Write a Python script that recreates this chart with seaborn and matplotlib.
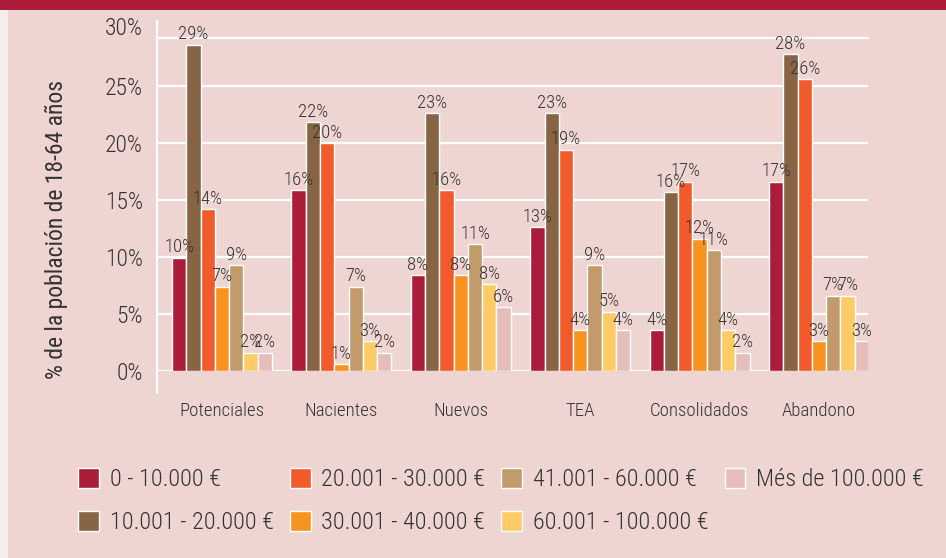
import matplotlib
matplotlib.use("Agg")
import matplotlib.pyplot as plt
import seaborn as sns
import pandas as pd
from matplotlib.patches import Rectangle

# ---- data -------------------------------------------------------------
categories = ["Potenciales", "Nacientes", "Nuevos", "TEA", "Consolidados", "Abandono"]
tramos = [
    "0 - 10.000 €",
    "10.001 - 20.000 €",
    "20.001 - 30.000 €",
    "30.001 - 40.000 €",
    "41.001 - 60.000 €",
    "60.001 - 100.000 €",
    "Més de 100.000 €",
]
renta_0_10 = [9.95, 15.85, 8.4, 12.6, 3.6, 16.6]
renta_10_20 = [28.6, 21.8, 22.6, 22.6, 15.7, 27.8]
renta_20_30 = [14.2, 20.0, 15.85, 19.4, 16.6, 25.6]
renta_30_40 = [7.4, 0.6, 8.4, 3.6, 11.6, 2.6]
renta_41_60 = [9.3, 7.4, 11.1, 9.3, 10.6, 6.6]
renta_60_100 = [1.6, 2.6, 7.6, 5.2, 3.6, 6.6]
renta_mas_100 = [1.6, 1.6, 5.6, 3.6, 1.6, 2.6]
yticks = [0, 5, 10, 15, 20, 25, 30]
ylabel = "% de la población de 18-64 años"

series = [renta_0_10, renta_10_20, renta_20_30, renta_30_40,
          renta_41_60, renta_60_100, renta_mas_100]
colors = ["#AC1C3A", "#876443", "#F15A2B", "#F7931E",
          "#C39A6C", "#FECB66", "#E5BDB9"]

rows = []
for tramo, vals in zip(tramos, series):
    for cat, v in zip(categories, vals):
        rows.append({"categoria": cat, "tramo": tramo, "valor": v})
df = pd.DataFrame(rows)

# ---- style ------------------------------------------------------------
BG = "#EED5D1"
TXT = "#333333"
sns.set_theme(style="white")
plt.rcParams["font.family"] = ["Roboto Condensed", "DejaVu Sans"]
plt.rcParams["font.weight"] = 300
plt.rcParams["text.color"] = TXT

W, H = 946, 558
fig = plt.figure(figsize=(W / 100, H / 100), dpi=100, facecolor=BG)

# page decoration: dark red band on top, pale strip on the left
fig.patches.append(Rectangle((0, 1 - 10 / H), 1, 10 / H, transform=fig.transFigure,
                             facecolor="#AC1C3A", edgecolor="none", zorder=0))
fig.patches.append(Rectangle((0, 0), 8 / W, 1 - 10 / H, transform=fig.transFigure,
                             facecolor="#F7EDEC", edgecolor="none", zorder=0))

ax = fig.add_axes([157 / W, (H - 371) / H, 711 / W, 333 / H])
ax.set_facecolor(BG)

sns.barplot(data=df, x="categoria", y="valor", hue="tramo", hue_order=tramos,
            order=categories, palette=colors, saturation=1, width=0.837,
            errorbar=None, ax=ax)

for cont in ax.containers:
    ax.bar_label(cont, labels=[f"{v:.0f}%" for v in cont.datavalues],
                 padding=1, fontsize=13.5, color=TXT)

ax.set_xlim(-0.544, 5.41)
ax.set_ylim(0, 29.2)
ax.set_yticks(yticks[:-1])
ax.set_yticklabels([f"{t}%" for t in yticks[:-1]])
ax.annotate(f"{yticks[-1]}%", xy=(0, yticks[-1]), xycoords=ax.get_yaxis_transform(),
            xytext=(-10, 0), textcoords="offset points", ha="right", va="center",
            fontsize=17, color=TXT, annotation_clip=False)

for s in ["left", "right", "bottom"]:
    ax.spines[s].set_visible(False)
ax.spines["top"].set_color("white")
ax.spines["top"].set_linewidth(1.6)

ax.yaxis.grid(True, color="white", linewidth=1.6)
ax.xaxis.grid(False)
ax.set_axisbelow(True)

ax.tick_params(axis="y", length=0, pad=10, labelsize=17, labelcolor=TXT)
ax.tick_params(axis="x", which="major", length=0, pad=22, labelsize=13.5, labelcolor=TXT)
step = 0.648
ax.set_xticks([-0.544 + step * k for k in range(1, 10)], minor=True)
ax.tick_params(axis="x", which="minor", length=7.5, width=1.5, color="white",
               direction="out")

# vertical axis line running past the plot area
ax.plot([0, 0], [-0.066, 1.05], transform=ax.transAxes, color="white",
        linewidth=1.6, clip_on=False, zorder=3)

ax.set_xlabel("")
ax.set_ylabel(ylabel, fontsize=17, color=TXT)
ax.yaxis.set_label_coords(-0.125, 0.426)

handles, labels = ax.get_legend_handles_labels()
ax.get_legend().remove()
fig.legend(handles, labels, ncol=4, loc="upper left",
           bbox_to_anchor=(78 / W, 1 - 468 / H), frameon=False,
           borderpad=0, borderaxespad=0, fontsize=17.5,
           handlelength=0.86, handleheight=0.86, handletextpad=0.45,
           columnspacing=0.65, labelspacing=0.82)

fig.savefig("out.png", dpi=100, facecolor=BG)
